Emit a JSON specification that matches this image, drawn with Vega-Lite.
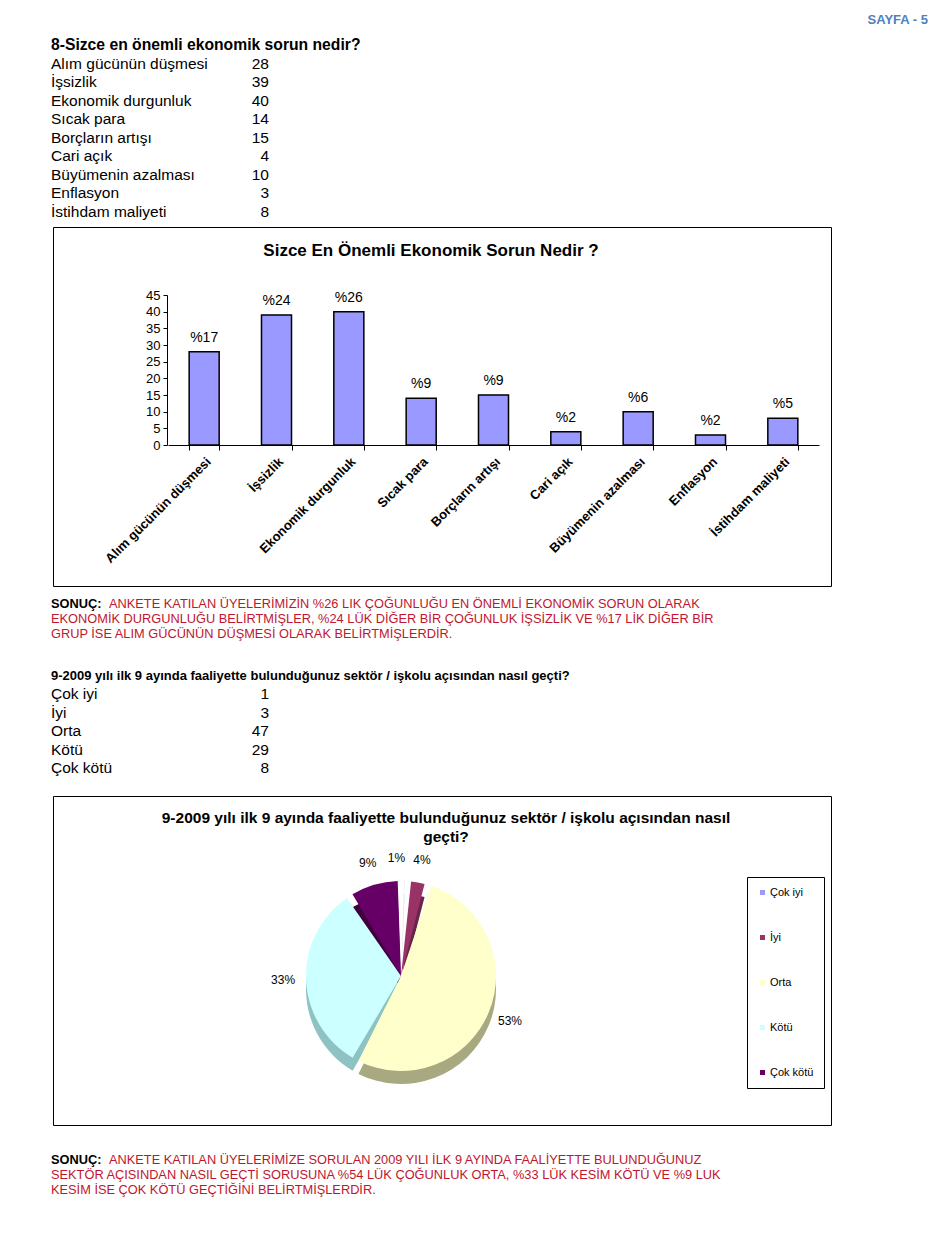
{
  "$schema": "https://vega.github.io/schema/vega-lite/v6.json",
  "padding": 0,
  "background": "white",
  "bounds": "full",
  "spacing": 0,
  "config": {
    "view": {"stroke": null},
    "font": "Liberation Sans",
    "text": {"font": "Liberation Sans", "color": "black"},
    "axisX": {
      "title": null, "labelAngle": -45, "labelAlign": "right", "labelBaseline": "top",
      "labelFontSize": 13, "labelFontWeight": "bold", "labelColor": "black", "labelLimit": 0,
      "domainColor": "black", "tickColor": "black", "tickSize": 5, "tickBand": "extent",
      "offset": -141, "labelPadding": 5, "labelOverlap": false
    },
    "axisY": {
      "title": null, "labelOverlap": false, "labelBound": false, "labelFlush": false,
      "labelFontSize": 13, "labelColor": "black", "domainColor": "black",
      "tickColor": "black", "tickSize": 4, "grid": false, "offset": -114, "labelPadding": 3
    },
    "concat": {"spacing": 0}
  },
  "datasets": {
    "problems": [
      {"item": "Alım gücünün düşmesi", "count": 28, "pct": "%17"},
      {"item": "İşsizlik", "count": 39, "pct": "%24"},
      {"item": "Ekonomik durgunluk", "count": 40, "pct": "%26"},
      {"item": "Sıcak para", "count": 14, "pct": "%9"},
      {"item": "Borçların artışı", "count": 15, "pct": "%9"},
      {"item": "Cari açık", "count": 4, "pct": "%2"},
      {"item": "Büyümenin azalması", "count": 10, "pct": "%6"},
      {"item": "Enflasyon", "count": 3, "pct": "%2"},
      {"item": "İstihdam maliyeti", "count": 8, "pct": "%5"}
    ],
    "ratings": [
      {"rating": "Çok iyi", "count": 1, "rank": 1, "pct": "1%"},
      {"rating": "İyi", "count": 3, "rank": 2, "pct": "4%"},
      {"rating": "Orta", "count": 47, "rank": 3, "pct": "53%"},
      {"rating": "Kötü", "count": 29, "rank": 4, "pct": "33%"},
      {"rating": "Çok kötü", "count": 8, "rank": 5, "pct": "9%"}
    ],
    "sonuc1": [
      {"line": 1, "text": "ANKETE KATILAN ÜYELERİMİZİN %26 LIK ÇOĞUNLUĞU EN ÖNEMLİ EKONOMİK SORUN OLARAK"},
      {"line": 2, "text": "EKONOMİK DURGUNLUĞU BELİRTMİŞLER, %24 LÜK DİĞER BİR ÇOĞUNLUK İŞSİZLİK VE %17 LİK DİĞER BİR"},
      {"line": 3, "text": "GRUP İSE ALIM GÜCÜNÜN DÜŞMESİ OLARAK BELİRTMİŞLERDİR."}
    ],
    "sonuc2": [
      {"line": 1, "text": "ANKETE KATILAN ÜYELERİMİZE SORULAN 2009 YILI İLK 9 AYINDA FAALİYETTE BULUNDUĞUNUZ"},
      {"line": 2, "text": "SEKTÖR AÇISINDAN NASIL GEÇTİ SORUSUNA %54 LÜK ÇOĞUNLUK ORTA, %33 LÜK KESİM KÖTÜ VE %9 LUK"},
      {"line": 3, "text": "KESİM İSE ÇOK KÖTÜ GEÇTİĞİNİ BELİRTMİŞLERDİR."}
    ]
  },
  "vconcat": [
    {
      "width": 950,
      "height": 226,
      "layer": [
        {
          "data": {"values": [{"t": "SAYFA - 5"}]},
          "mark": {"type": "text", "align": "right", "fontSize": 13, "fontWeight": "bold", "color": "#4f81bd"},
          "encoding": {"text": {"field": "t"}, "x": {"value": 928}, "y": {"value": 20}}
        },
        {
          "data": {"values": [{"t": "8-Sizce en önemli ekonomik sorun nedir?"}]},
          "mark": {"type": "text", "align": "left", "fontSize": 15.7, "fontWeight": "bold"},
          "encoding": {"text": {"field": "t"}, "x": {"value": 51}, "y": {"value": 45}}
        },
        {
          "data": {"name": "problems"},
          "mark": {"type": "text", "align": "left", "fontSize": 15.5},
          "encoding": {
            "text": {"field": "item"},
            "x": {"value": 51},
            "y": {"field": "item", "type": "nominal", "sort": null, "scale": {"type": "point", "range": [63.5, 211.5], "padding": 0}, "axis": null}
          }
        },
        {
          "data": {"name": "problems"},
          "mark": {"type": "text", "align": "right", "fontSize": 15.5},
          "encoding": {
            "text": {"field": "count"},
            "x": {"value": 269},
            "y": {"field": "item", "type": "nominal", "sort": null, "scale": {"type": "point", "range": [63.5, 211.5], "padding": 0}, "axis": null}
          }
        }
      ]
    },
    {
      "bounds": "full",
      "spacing": 0,
      "hconcat": [
        {
          "width": 52,
          "height": 359,
          "data": {"values": [{}]},
          "mark": {"type": "point", "opacity": 0}
        },
        {
          "width": 778,
          "height": 359,
          "view": {"stroke": "black", "strokeWidth": 1},
          "data": {"name": "problems"},
          "layer": [
            {
              "mark": {"type": "bar", "fill": "#9999ff", "stroke": "black", "strokeWidth": 1.5},
              "encoding": {
                "x": {
                  "field": "item", "type": "nominal", "sort": null,
                  "scale": {"range": [115, 766], "paddingInner": 0.585, "paddingOuter": 0.2925}
                },
                "y": {
                  "field": "count", "type": "quantitative",
                  "scale": {"domain": [0, 45], "range": [218, 68], "nice": false},
                  "axis": {"values": [0, 5, 10, 15, 20, 25, 30, 35, 40, 45], "labelOverlap": false}
                }
              }
            },
            {
              "mark": {"type": "text", "dy": -14, "fontSize": 14},
              "encoding": {
                "x": {"field": "item", "type": "nominal", "sort": null},
                "y": {"field": "count", "type": "quantitative", "axis": {"values": [0, 5, 10, 15, 20, 25, 30, 35, 40, 45], "labelOverlap": false}},
                "text": {"field": "pct"}
              }
            },
            {
              "data": {"values": [{"t": "Sizce En Önemli Ekonomik Sorun Nedir ?"}]},
              "mark": {"type": "text", "fontSize": 17, "fontWeight": "bold"},
              "encoding": {"text": {"field": "t"}, "x": {"value": 378}, "y": {"value": 24}}
            }
          ]
        }
      ]
    },
    {
      "width": 950,
      "height": 208,
      "layer": [
        {
          "data": {"values": [{"t": "SONUÇ:"}]},
          "mark": {"type": "text", "align": "left", "fontSize": 12.8, "fontWeight": "bold"},
          "encoding": {"text": {"field": "t"}, "x": {"value": 51}, "y": {"value": 17}}
        },
        {
          "data": {"name": "sonuc1"},
          "transform": [{"filter": "datum.line == 1"}],
          "mark": {"type": "text", "align": "left", "fontSize": 12.8, "color": "#c0162e"},
          "encoding": {
            "text": {"field": "text"},
            "x": {"value": 109},
            "y": {"field": "line", "type": "quantitative", "scale": {"domain": [1, 3], "range": [17, 47]}, "axis": null}
          }
        },
        {
          "data": {"name": "sonuc1"},
          "transform": [{"filter": "datum.line > 1"}],
          "mark": {"type": "text", "align": "left", "fontSize": 12.8, "color": "#c0162e"},
          "encoding": {
            "text": {"field": "text"},
            "x": {"value": 51},
            "y": {"field": "line", "type": "quantitative", "scale": {"domain": [1, 3], "range": [17, 47]}, "axis": null}
          }
        },
        {
          "data": {"values": [{"t": "9-2009 yılı ilk 9 ayında faaliyette bulunduğunuz sektör / işkolu açısından nasıl geçti?"}]},
          "mark": {"type": "text", "align": "left", "fontSize": 13, "fontWeight": "bold"},
          "encoding": {"text": {"field": "t"}, "x": {"value": 51}, "y": {"value": 89}}
        },
        {
          "data": {"name": "ratings"},
          "mark": {"type": "text", "align": "left", "fontSize": 15.5},
          "encoding": {
            "text": {"field": "rating"},
            "x": {"value": 51},
            "y": {"field": "rating", "type": "nominal", "sort": null, "scale": {"type": "point", "range": [107, 181], "padding": 0}, "axis": null}
          }
        },
        {
          "data": {"name": "ratings"},
          "mark": {"type": "text", "align": "right", "fontSize": 15.5},
          "encoding": {
            "text": {"field": "count"},
            "x": {"value": 269},
            "y": {"field": "rating", "type": "nominal", "sort": null, "scale": {"type": "point", "range": [107, 181], "padding": 0}, "axis": null}
          }
        }
      ],
      "resolve": {"scale": {"y": "independent"}}
    },
    {
      "bounds": "full",
      "spacing": 0,
      "hconcat": [
        {
          "width": 52,
          "height": 329,
          "data": {"values": [{}]},
          "mark": {"type": "point", "opacity": 0}
        },
        {
          "width": 778,
          "height": 329,
          "view": {"stroke": "black", "strokeWidth": 1},
          "data": {"name": "ratings"},
          "layer": [
            {
              "mark": {"type": "arc", "outerRadius": 95, "padAngle": 0.07},
              "encoding": {
                "theta": {"field": "count", "type": "quantitative", "stack": true},
                "order": {"field": "rank"},
                "color": {
                  "field": "rating", "type": "nominal",
                  "scale": {"domain": ["Çok iyi", "İyi", "Orta", "Kötü", "Çok kötü"], "range": ["#6f6fc4", "#6b2347", "#a9a981", "#8fc2c2", "#3d003d"]},
                  "legend": null
                },
                "x": {"value": 348},
                "y": {"value": 193}
              }
            },
            {
              "mark": {"type": "arc", "outerRadius": 95, "padAngle": 0.07},
              "encoding": {
                "theta": {"field": "count", "type": "quantitative", "stack": true},
                "order": {"field": "rank"},
                "color": {
                  "field": "rating", "type": "nominal",
                  "scale": {"domain": ["Çok iyi", "İyi", "Orta", "Kötü", "Çok kötü"], "range": ["#9999ff", "#993366", "#ffffcc", "#ccffff", "#660066"]},
                  "legend": {
                    "orient": "none", "legendX": 694, "legendY": 81, "title": null,
                    "strokeColor": "black", "fillColor": "white", "padding": 10, "rowPadding": 33,
                    "symbolType": "square", "symbolSize": 25, "symbolStrokeWidth": 0,
                    "labelFontSize": 11, "labelColor": "black", "labelOffset": 2
                  }
                },
                "x": {"value": 348},
                "y": {"value": 180}
              }
            },
            {
              "mark": {"type": "text", "radius": 118, "fontSize": 12, "align": "right"},
              "encoding": {
                "theta": {"field": "count", "type": "quantitative", "stack": true},
                "order": {"field": "rank"},
                "text": {"field": "pct"},
                "opacity": {"condition": {"test": "datum.rating === 'Çok iyi'", "value": 1}, "value": 0},
                "x": {"value": 348},
                "y": {"value": 180}
              }
            },
            {
              "mark": {"type": "text", "radius": 118, "fontSize": 12},
              "encoding": {
                "theta": {"field": "count", "type": "quantitative", "stack": true},
                "order": {"field": "rank"},
                "text": {"field": "pct"},
                "opacity": {"condition": {"test": "datum.rating === 'Çok iyi'", "value": 0}, "value": 1},
                "x": {"value": 348},
                "y": {"value": 180}
              }
            },
            {
              "data": {"values": [{"t": "9-2009 yılı ilk 9 ayında faaliyette bulunduğunuz sektör / işkolu açısından nasıl"}]},
              "mark": {"type": "text", "fontSize": 15.5, "fontWeight": "bold"},
              "encoding": {"text": {"field": "t"}, "x": {"value": 393}, "y": {"value": 22}}
            },
            {
              "data": {"values": [{"t": "geçti?"}]},
              "mark": {"type": "text", "fontSize": 15.5, "fontWeight": "bold"},
              "encoding": {"text": {"field": "t"}, "x": {"value": 393}, "y": {"value": 41}}
            }
          ],
          "resolve": {"scale": {"color": "independent"}}
        }
      ]
    },
    {
      "width": 950,
      "height": 136,
      "layer": [
        {
          "data": {"values": [{"t": "SONUÇ:"}]},
          "mark": {"type": "text", "align": "left", "fontSize": 12.8, "fontWeight": "bold"},
          "encoding": {"text": {"field": "t"}, "x": {"value": 51}, "y": {"value": 34}}
        },
        {
          "data": {"name": "sonuc2"},
          "transform": [{"filter": "datum.line == 1"}],
          "mark": {"type": "text", "align": "left", "fontSize": 12.8, "color": "#c0162e"},
          "encoding": {
            "text": {"field": "text"},
            "x": {"value": 109},
            "y": {"field": "line", "type": "quantitative", "scale": {"domain": [1, 3], "range": [34, 64]}, "axis": null}
          }
        },
        {
          "data": {"name": "sonuc2"},
          "transform": [{"filter": "datum.line > 1"}],
          "mark": {"type": "text", "align": "left", "fontSize": 12.8, "color": "#c0162e"},
          "encoding": {
            "text": {"field": "text"},
            "x": {"value": 51},
            "y": {"field": "line", "type": "quantitative", "scale": {"domain": [1, 3], "range": [34, 64]}, "axis": null}
          }
        }
      ]
    }
  ]
}
